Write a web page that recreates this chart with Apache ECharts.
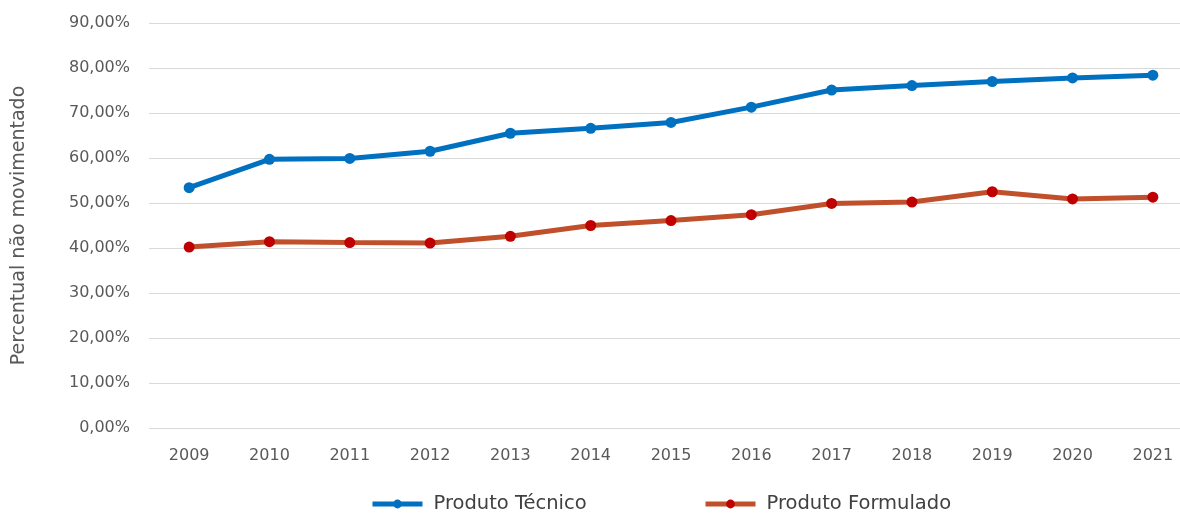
<!DOCTYPE html>
<html>
<head>
<meta charset="utf-8">
<script src="https://cdn.jsdelivr.net/npm/echarts@6/dist/echarts.min.js"></script>
<style>html,body{margin:0;padding:0;background:#fff}#c{width:1180px;height:514px}</style>
</head>
<body>
<div id="c"></div>
<script>
const years = ['2009','2010','2011','2012','2013','2014','2015','2016','2017','2018','2019','2020','2021'];
const produtoTecnico = [53.4, 59.7, 59.9, 61.5, 65.5, 66.6, 67.9, 71.3, 75.1, 76.1, 77.0, 77.8, 78.4];
const produtoFormulado = [40.2, 41.4, 41.2, 41.1, 42.6, 45.0, 46.1, 47.4, 49.9, 50.2, 52.5, 50.9, 51.3];
const seriesNames = ['Produto Técnico', 'Produto Formulado'];
const yAxisName = 'Percentual não movimentado';

const FONT = 'DejaVu Sans';
const legendBase = {
  top: 494, padding: 0, itemWidth: 50, itemHeight: 11,
  lineStyle: { width: 5 },
  textStyle: { fontSize: 19.5, color: '#404040', fontFamily: FONT, padding: [0, 0, 0, 6] }
};
const chart = echarts.init(document.getElementById('c'));
chart.setOption({
  animation: false,
  backgroundColor: '#ffffff',
  textStyle: { fontFamily: FONT },
  grid: { left: 149, top: 23, width: 1044, height: 405, containLabel: false, outerBoundsMode: 'none' },
  legend: [
    Object.assign({}, legendBase, { left: 370, data: [seriesNames[0]] }),
    Object.assign({}, legendBase, { left: 703, data: [seriesNames[1]] })
  ],
  xAxis: {
    type: 'category', data: years, boundaryGap: true,
    axisLine: { show: false }, axisTick: { show: false },
    axisLabel: { color: '#595959', fontSize: 16, margin: 20, fontFamily: FONT }
  },
  yAxis: {
    type: 'value', min: 0, max: 90, interval: 10,
    name: yAxisName, nameLocation: 'middle', nameGap: 120, nameRotate: 90,
    nameTextStyle: { fontSize: 19, color: '#595959', fontFamily: FONT },
    axisLine: { show: false }, axisTick: { show: false },
    splitLine: { lineStyle: { color: '#d9d9d9', width: 1 } },
    axisLabel: { color: '#595959', fontSize: 16, margin: 19, fontFamily: FONT,
      formatter: v => v.toFixed(2).replace('.', ',') + '%' }
  },
  series: [
    { name: seriesNames[0], type: 'line', data: produtoTecnico,
      symbol: 'circle', symbolSize: 11,
      lineStyle: { color: '#0070C0', width: 5 },
      itemStyle: { color: '#0070C0' } },
    { name: seriesNames[1], type: 'line', data: produtoFormulado,
      symbol: 'circle', symbolSize: 11,
      lineStyle: { color: '#C0502B', width: 5 },
      itemStyle: { color: '#C00000' } }
  ]
});
</script>
</body>
</html>
